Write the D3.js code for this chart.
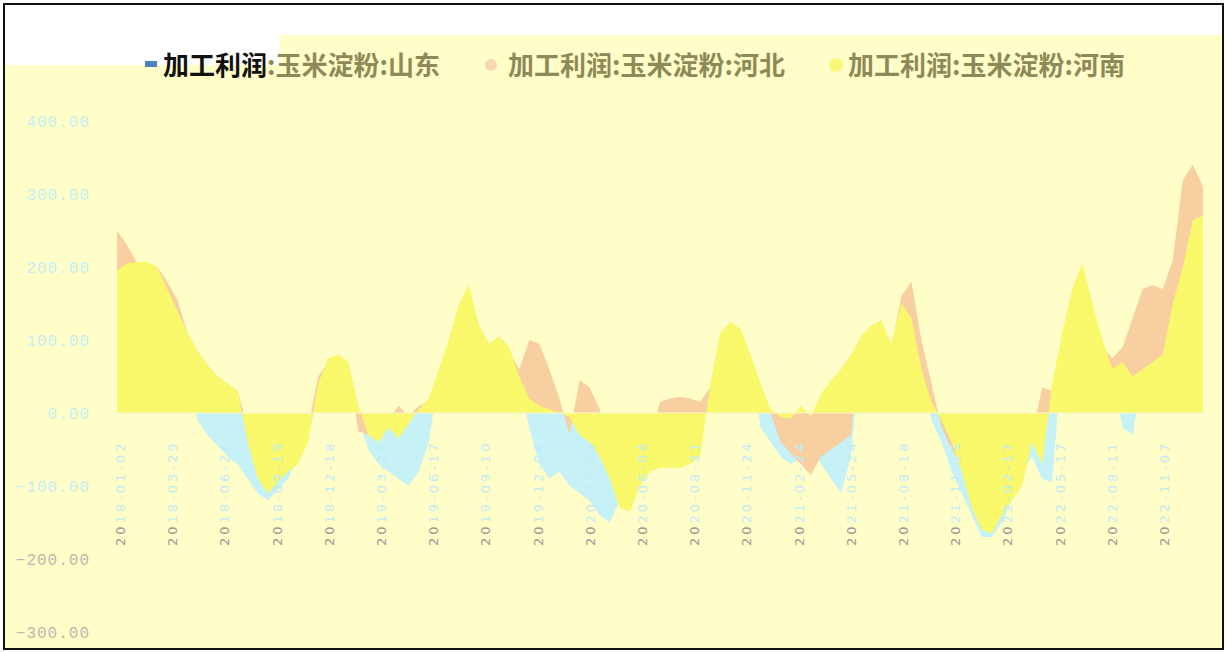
<!DOCTYPE html>
<html><head><meta charset="utf-8">
<script src="https://cdn.jsdelivr.net/npm/d3@7"></script>
<style>body{margin:0;background:#fff}svg{display:block}</style>
</head><body>
<svg id="c" width="1227" height="652"></svg>
<script>
const seriesNames = ["加工利润:玉米淀粉:山东","加工利润:玉米淀粉:河北","加工利润:玉米淀粉:河南"];
const shandong = [190,200,200,195,190,160,130,90,-10,-30,-45,-60,-70,-90,-110,-120,-105,-90,-60,-30,
 20,60,70,60,-10,-50,-70,-80,-90,-100,-80,-40,50,90,140,160,110,85,95,80,40,
 -20,-70,-90,-80,-100,-110,-120,-140,-150,-120,-100,-60,-40,-30,-30,-30,-30,-20,
 30,100,115,105,70,-20,-40,-60,-70,-60,-50,-70,-90,-110,-60,
 90,110,115,80,140,150,60,-10,-40,-80,-110,-140,-170,-170,-150,-120,-80,-60,-90,-95,
 80,150,180,130,80,50,-20,-30,50,60,70,130,180,240,250];
const hebei = [250,230,205,200,200,180,155,110,85,65,50,40,30,-20,-40,-60,-50,-40,-30,-20,
 50,70,75,65,-25,-30,-25,-10,10,-5,10,15,50,90,140,165,110,90,100,85,60,
 100,95,60,20,-30,45,35,5,-50,-80,-90,-80,-40,15,20,22,20,15,
 35,100,115,105,70,30,0,-40,-55,-70,-85,-60,-50,-40,-30,
 100,115,120,90,160,180,100,40,-20,-50,-70,-100,-120,-130,-110,-90,-70,-30,35,
 30,100,160,190,140,90,75,90,130,170,175,170,210,320,340,310];
const henan = [195,205,207,207,200,170,140,110,85,65,50,40,30,-40,-90,-110,-95,-80,-70,-40,
 40,75,80,70,10,-30,-40,-20,-35,-15,5,20,60,100,150,175,120,95,105,90,50,
 20,10,5,0,-5,-30,-40,-60,-90,-130,-135,-100,-80,-75,-75,-75,-70,-60,
 40,110,125,115,80,40,5,-5,-8,10,-5,25,45,60,80,
 105,120,127,95,150,130,60,15,-10,-40,-80,-130,-160,-165,-140,-120,-100,-40,-70,
 40,110,170,205,150,100,60,70,50,60,70,80,150,200,265,270];
const tickLabels = ["2018-01-02","2018-03-29","2018-06-26","2018-09-19","2018-12-18","2019-03-20",
 "2019-06-17","2019-09-10","2019-12-06","2020-03-09","2020-06-04","2020-08-31","2020-11-24",
 "2021-02-24","2021-05-24","2021-08-18","2021-11-15","2022-02-17","2022-05-17","2022-08-11","2022-11-07"];
const yTicks = [400,300,200,100,0,-100,-200,-300];
const colors = ["#c6f1f7","#f8cfa0","#f8f86a"];

const svg = d3.select("#c");
svg.append("rect").attr("x",5).attr("y",65).attr("width",1217).attr("height",583).attr("fill","#fffdc8");
svg.append("rect").attr("x",280).attr("y",35).attr("width",942).attr("height",31).attr("fill","#fffdc8");
svg.append("rect").attr("x",4).attr("y",4).attr("width",1219).attr("height",645)
  .attr("fill","none").attr("stroke","#111").attr("stroke-width",2);

const y = d3.scaleLinear().domain([-300,400]).range([632,121]);
const x = d3.scaleLinear().domain([0, henan.length-1]).range([117,1203]);
const xt = d3.scalePoint().domain(tickLabels).range([120,1164]);

const yg = svg.append("g");
yTicks.forEach(v=>{
  yg.append("text").attr("x",90).attr("y",y(v)+6).attr("text-anchor","end")
    .attr("font-family","Liberation Mono, DejaVu Sans Mono, monospace").attr("font-size",16)
    .attr("letter-spacing",1)
    .attr("fill", v<=-200 ? "#b9b9ae" : "#c4f0f2")
    .text(d3.format(".2f")(v));
});

const area = d3.area().x((d,i)=>x(i)).y0(y(0)).y1(d=>y(d)).curve(d3.curveLinear);
[shandong, hebei, henan].forEach((s,k)=>{
  svg.append("path").datum(s).attr("d",area).attr("fill",colors[k]);
});
svg.append("line").attr("x1",110).attr("x2",1210).attr("y1",y(0)).attr("y2",y(0))
  .attr("stroke","#fbf6cf").attr("stroke-width",1);

const xg = svg.append("g");
tickLabels.forEach(t=>{
  const tx = xg.append("text").attr("transform",`translate(${xt(t)+5},546) rotate(-90)`)
    .attr("font-family","DejaVu Sans, sans-serif").attr("font-size",13).attr("letter-spacing",3);
  tx.append("tspan").attr("fill","#9a9a95").text(t.slice(0,2));
  tx.append("tspan").attr("fill","#c4ecf0").text(t.slice(2));
});

const lg = svg.append("g").attr("font-family","Noto Sans CJK SC, sans-serif").attr("font-size",26).attr("font-weight","bold");
lg.append("rect").attr("x",145).attr("y",61).attr("width",12).attr("height",6).attr("fill","#4f81bd");
const t1 = lg.append("text").attr("x",163).attr("y",75);
t1.append("tspan").attr("fill","#111").text(seriesNames[0].slice(0,4));
t1.append("tspan").attr("fill","#8e8a58").text(seriesNames[0].slice(4));
lg.append("circle").attr("cx",491).attr("cy",65).attr("r",6).attr("fill","#f9d6b0");
lg.append("text").attr("x",508).attr("y",75).attr("fill","#8e8a58").text(seriesNames[1]);
lg.append("circle").attr("cx",836).attr("cy",65).attr("r",7).attr("fill","#f9f77a");
lg.append("text").attr("x",848).attr("y",75).attr("fill","#8e8a58").text(seriesNames[2]);
</script>
</body></html>
